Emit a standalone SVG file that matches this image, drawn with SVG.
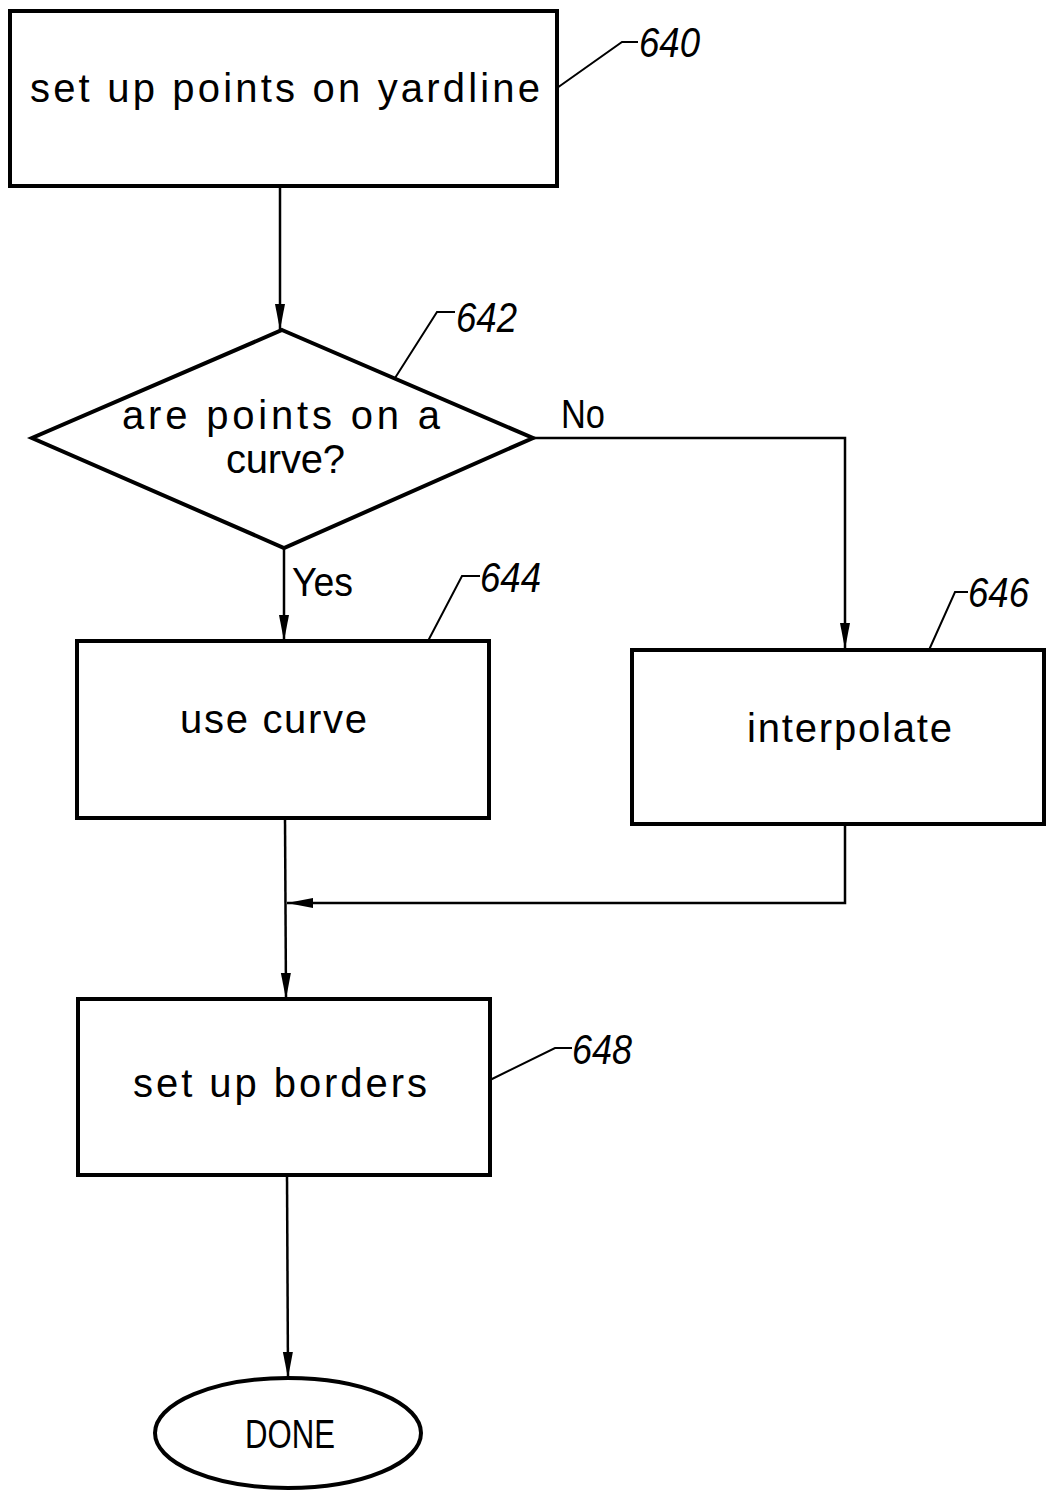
<svg xmlns="http://www.w3.org/2000/svg" width="1049" height="1491" viewBox="0 0 1049 1491">
<defs>
<marker id="ahd" viewBox="0 0 26 12" refX="26" refY="6" markerWidth="26" markerHeight="12" preserveAspectRatio="none" markerUnits="userSpaceOnUse" orient="auto">
<path d="M0,1 L26,6 L0,11 z" fill="#000"/>
</marker>
</defs>
<style>
.box{fill:#fff;stroke:#000;stroke-width:4}
.lbl{font-family:"Liberation Sans",Arial,sans-serif;font-size:40px;fill:#000}
.num{font-family:"Liberation Sans",Arial,sans-serif;font-style:italic;font-size:42px;fill:#000}
.lead{fill:none;stroke:#000;stroke-width:2}
.con{fill:none;stroke:#000;stroke-width:2.5}
</style>
<rect width="1049" height="1491" fill="#fff"/>
<g id="connectors">
<path class="con" d="M280,186 L280,330" marker-end="url(#ahd)"/>
<path class="con" d="M533,438 L845,438 L845,649" marker-end="url(#ahd)"/>
<path class="con" d="M284,548 L284,641" marker-end="url(#ahd)"/>
<path class="con" d="M845,824 L845,903 L287,903" marker-end="url(#ahd)"/>
<path class="con" d="M285,818 L286,999" marker-end="url(#ahd)"/>
<path class="con" d="M287,1175 L288,1378" marker-end="url(#ahd)"/>
<text class="lbl" x="561" y="428" textLength="44" lengthAdjust="spacingAndGlyphs">No</text>
<text class="lbl" x="292" y="596" textLength="61" lengthAdjust="spacingAndGlyphs">Yes</text>
</g>
<g id="n640">
<rect class="box" x="10" y="11" width="547" height="175"/>
<text class="lbl" x="30" y="102" textLength="510" lengthAdjust="spacing">set up points on yardline</text>
<path class="lead" d="M557,88 L622,42 L638,42"/>
<text class="num" x="639" y="57" textLength="61" lengthAdjust="spacingAndGlyphs">640</text>
</g>
<g id="n642">
<polygon class="box" points="282,330 533,438 284,548 32,438"/>
<text class="lbl" x="122" y="429" textLength="318" lengthAdjust="spacing">are points on a</text>
<text class="lbl" x="226" y="473" textLength="119" lengthAdjust="spacing">curve?</text>
<path class="lead" d="M395,378 L437,312 L455,312"/>
<text class="num" x="456" y="332" textLength="61" lengthAdjust="spacingAndGlyphs">642</text>
</g>
<g id="n644">
<rect class="box" x="77" y="641" width="412" height="177"/>
<text class="lbl" x="180" y="733" textLength="187" lengthAdjust="spacing">use curve</text>
<path class="lead" d="M428,641 L462,576 L480,576"/>
<text class="num" x="480" y="592" textLength="61" lengthAdjust="spacingAndGlyphs">644</text>
</g>
<g id="n646">
<rect class="box" x="632" y="650" width="412" height="174"/>
<text class="lbl" x="747" y="742" textLength="205" lengthAdjust="spacing">interpolate</text>
<path class="lead" d="M929,650 L955,592 L968,592"/>
<text class="num" x="968" y="607" textLength="61" lengthAdjust="spacingAndGlyphs">646</text>
</g>
<g id="n648">
<rect class="box" x="78" y="999" width="412" height="176"/>
<text class="lbl" x="133" y="1097" textLength="294" lengthAdjust="spacing">set up borders</text>
<path class="lead" d="M490,1080 L555,1048 L572,1048"/>
<text class="num" x="572" y="1064" textLength="60" lengthAdjust="spacingAndGlyphs">648</text>
</g>
<g id="done">
<ellipse class="box" cx="288" cy="1433" rx="133" ry="55"/>
<text class="lbl" x="245" y="1448" textLength="90" lengthAdjust="spacingAndGlyphs">DONE</text>
</g>
</svg>
